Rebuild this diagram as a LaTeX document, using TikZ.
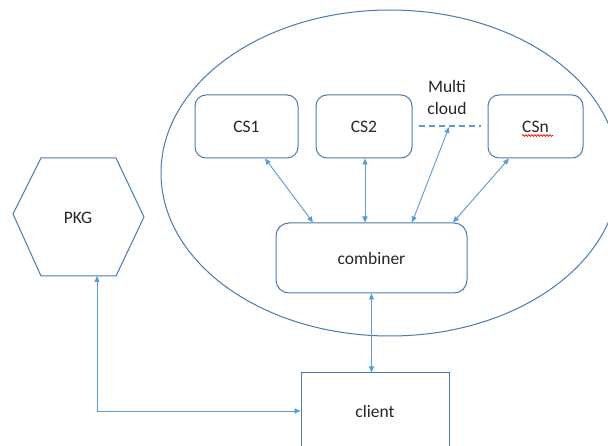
\documentclass[tikz,border=0pt]{standalone}
\usepackage{fontspec}
\setmainfont{Carlito}
\usetikzlibrary{arrows.meta,decorations.pathmorphing}
\definecolor{edge}{HTML}{4A7BB0}
\definecolor{link}{HTML}{5B9BD5}
\definecolor{ink}{HTML}{262626}
\tikzset{
  box/.style={draw=edge, line width=1pt, rounded corners=11pt, fill=white,
    inner sep=0pt, text=ink, font=\fontsize{17.5}{21}\selectfont},
  plainbox/.style={draw=edge, line width=1pt, fill=white,
    inner sep=0pt, text=ink, font=\fontsize{17.5}{21}\selectfont},
  label/.style={inner sep=0pt, text=ink, font=\fontsize{17.5}{21}\selectfont},
  link/.style={draw=link, line width=0.9pt,
    {Triangle[length=6pt,width=5pt]}-{Triangle[length=6pt,width=5pt]}},
  squiggle/.style={draw=red, line width=0.7pt,
    decorate, decoration={snake, amplitude=0.9pt, segment length=3pt}},
}
\begin{document}
\begin{tikzpicture}[x=1pt,y=-1pt]
  \useasboundingbox (0,0) rectangle (608,446);
  \fill[white] (0,0) rectangle (608,446);
  \clip (0,0) rectangle (608,446);

  % cloud boundary
  \draw[edge, line width=1pt] (390,173) ellipse [x radius=229, y radius=163];

  % package hexagon
  \draw[edge, line width=1pt]
    (41,158) -- (116,158) -- (144,217) -- (116,276) -- (41,276) -- (13,214) -- cycle;
  \node[label] (pkg) at (78,218) {PKG};
  \coordinate (pkgfoot) at (97,276);
  \coordinate (bend) at (97,411);

  % cloud servers and combiner
  \node[box, minimum width=103pt, minimum height=63pt] (cs1) at (246.5,126.5) {CS1};
  \node[box, minimum width=96pt, minimum height=63pt] (cs2) at (364,126.5) {CS2};
  \node[box, minimum width=95pt, minimum height=63pt] (csn) at (535.5,126.5) {CSn};
  \node[box, rounded corners=13pt, minimum width=191pt, minimum height=70pt] (comb) at (371.5,258) {combiner};

  % spelling squiggle under CSn
  \coordinate (sql) at (522,135.5);
  \coordinate (sqr) at (553,135.5);
  \draw[squiggle] (sql) -- (sqr);

  % multi cloud label and dashed link
  \node[label, align=center] (multi) at (447,97) {Multi\\[1pt]cloud};
  \coordinate (dl) at (419,126);
  \coordinate (dr) at (481,126);
  \coordinate (dmid) at (449,127);
  \draw[link, -, dashed, dash pattern=on 6pt off 4pt, line width=1.4pt] (dl) -- (dr);

  % client
  \node[plainbox, minimum width=148pt, minimum height=76pt] (client) at (375,411) {client};

  % connectors
  \draw[link] ([xshift=18.5pt]cs1.south) -- ([xshift=-58.5pt]comb.north);
  \draw[link] ([xshift=1pt]cs2.south) -- ([xshift=-6.5pt]comb.north);
  \draw[link] (dmid) -- ([xshift=40.5pt]comb.north);
  \draw[link] ([xshift=-26.5pt]csn.south) -- ([xshift=81.5pt]comb.north);
  \draw[link] (comb.south) -- ([xshift=-3.5pt]client.north);
  \draw[link] (pkgfoot) -- (bend) -- (client.west);
\end{tikzpicture}
\end{document}
